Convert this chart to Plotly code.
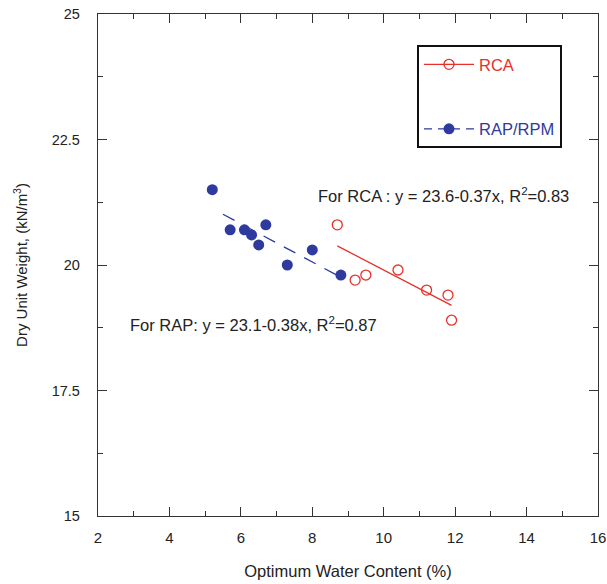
import plotly.graph_objects as go

# Data
rca_x = [8.7, 9.2, 9.5, 10.4, 11.2, 11.8, 11.9]
rca_y = [20.8, 19.7, 19.8, 19.9, 19.5, 19.4, 18.9]
rap_x = [5.2, 5.7, 6.1, 6.3, 6.5, 6.7, 7.3, 8.0, 8.8]
rap_y = [21.5, 20.7, 20.7, 20.6, 20.4, 20.8, 20.0, 20.3, 19.8]

# Fits: y = a + b x
rca_fit = (23.6, -0.37)
rap_fit = (23.1, -0.38)
rca_fit_x = [8.7, 11.9]
rap_fit_x = [5.5, 8.8]

x_ticks = [2, 4, 6, 8, 10, 12, 14, 16]
y_ticks = [15, 17.5, 20, 22.5, 25]

RED = "#e8302a"
BLUE = "#2e3a9e"
FONT = "Liberation Sans, Arial, sans-serif"

fig = go.Figure()

# fit lines
fig.add_trace(go.Scatter(x=rca_fit_x, y=[rca_fit[0] + rca_fit[1] * v for v in rca_fit_x],
                         mode="lines", line=dict(color=RED, width=1.3), showlegend=False, hoverinfo="skip"))
fig.add_trace(go.Scatter(x=rap_fit_x, y=[rap_fit[0] + rap_fit[1] * v for v in rap_fit_x],
                         mode="lines", line=dict(color=BLUE, width=1.3, dash="13px,10px"),
                         showlegend=False, hoverinfo="skip"))

# data points
fig.add_trace(go.Scatter(x=rca_x, y=rca_y, mode="markers",
                         marker=dict(symbol="circle-open", size=10, color=RED, line=dict(width=1.3, color=RED)),
                         showlegend=False))
fig.add_trace(go.Scatter(x=rap_x, y=rap_y, mode="markers",
                         marker=dict(symbol="circle", size=11, color=BLUE),
                         showlegend=False))

# legend entries
fig.add_trace(go.Scatter(x=[None], y=[None], mode="lines+markers",
                         name=f"<span style='color:{RED}'>RCA</span>", legendgroup="a",
                         line=dict(color=RED, width=1.3),
                         marker=dict(symbol="circle-open", size=10, color=RED, line=dict(width=1.3, color=RED))))
fig.add_trace(go.Scatter(x=[None], y=[None], mode="lines+markers",
                         name=f"<span style='color:{BLUE}'>RAP/RPM</span>", legendgroup="b",
                         line=dict(color=BLUE, width=1.3, dash="8px,6px"),
                         marker=dict(symbol="circle", size=11, color=BLUE)))

axis_common = dict(
    showgrid=False, zeroline=False, showline=True, linecolor="#333", linewidth=1.3,
    mirror="ticks", ticks="inside", ticklen=9, tickwidth=1, tickcolor="#333",
    automargin=False,
)

fig.update_xaxes(range=[2, 16], tickvals=x_ticks, ticktext=[str(v) for v in x_ticks],
                 tickfont=dict(size=15, color="#222", family=FONT), ticklabelstandoff=8,
                 minor=dict(dtick=1, ticks="inside", ticklen=5, tickcolor="#333", tickwidth=1),
                 title=dict(text="Optimum Water Content (%)", font=dict(size=16.5, color="#222", family=FONT), standoff=20),
                 **axis_common)
fig.update_yaxes(range=[15, 25], tickvals=y_ticks, ticktext=[f"{v:g}" for v in y_ticks],
                 tickfont=dict(size=14.5, color="#222", family=FONT), ticklabelstandoff=14,
                 minor=dict(dtick=1.25, ticks="inside", ticklen=5, tickcolor="#333", tickwidth=1),
                 title=dict(text="Dry Unit Weight, (kN/m<sup>3</sup>)", font=dict(size=15, color="#222", family=FONT), standoff=20),
                 **axis_common)

fig.add_annotation(x=8.10, y=21.39, xref="x", yref="y", xanchor="left", yanchor="middle", showarrow=False,
                   text="For RCA : y = 23.6-0.37x, R<sup>2</sup>=0.83",
                   font=dict(size=16.5, color="#222", family=FONT))
fig.add_annotation(x=2.84, y=18.82, xref="x", yref="y", xanchor="left", yanchor="middle", showarrow=False,
                   text="For RAP: y = 23.1-0.38x, R<sup>2</sup>=0.87",
                   font=dict(size=16.5, color="#222", family=FONT))

fig.update_layout(
    width=607, height=584,
    margin=dict(l=98, r=9, t=14, b=68),
    paper_bgcolor="white", plot_bgcolor="white",
    font=dict(family=FONT, size=14, color="#222"),
    legend=dict(x=0.638, y=0.938, xanchor="left", yanchor="top",
                bgcolor="white", bordercolor="#111", borderwidth=2,
                tracegroupgap=40, itemwidth=50,
                font=dict(size=16.5, family=FONT)),
)

fig.write_html("out.html", config={"displayModeBar": False},
               post_script="document.body.style.margin='0';document.body.style.padding='0';")
